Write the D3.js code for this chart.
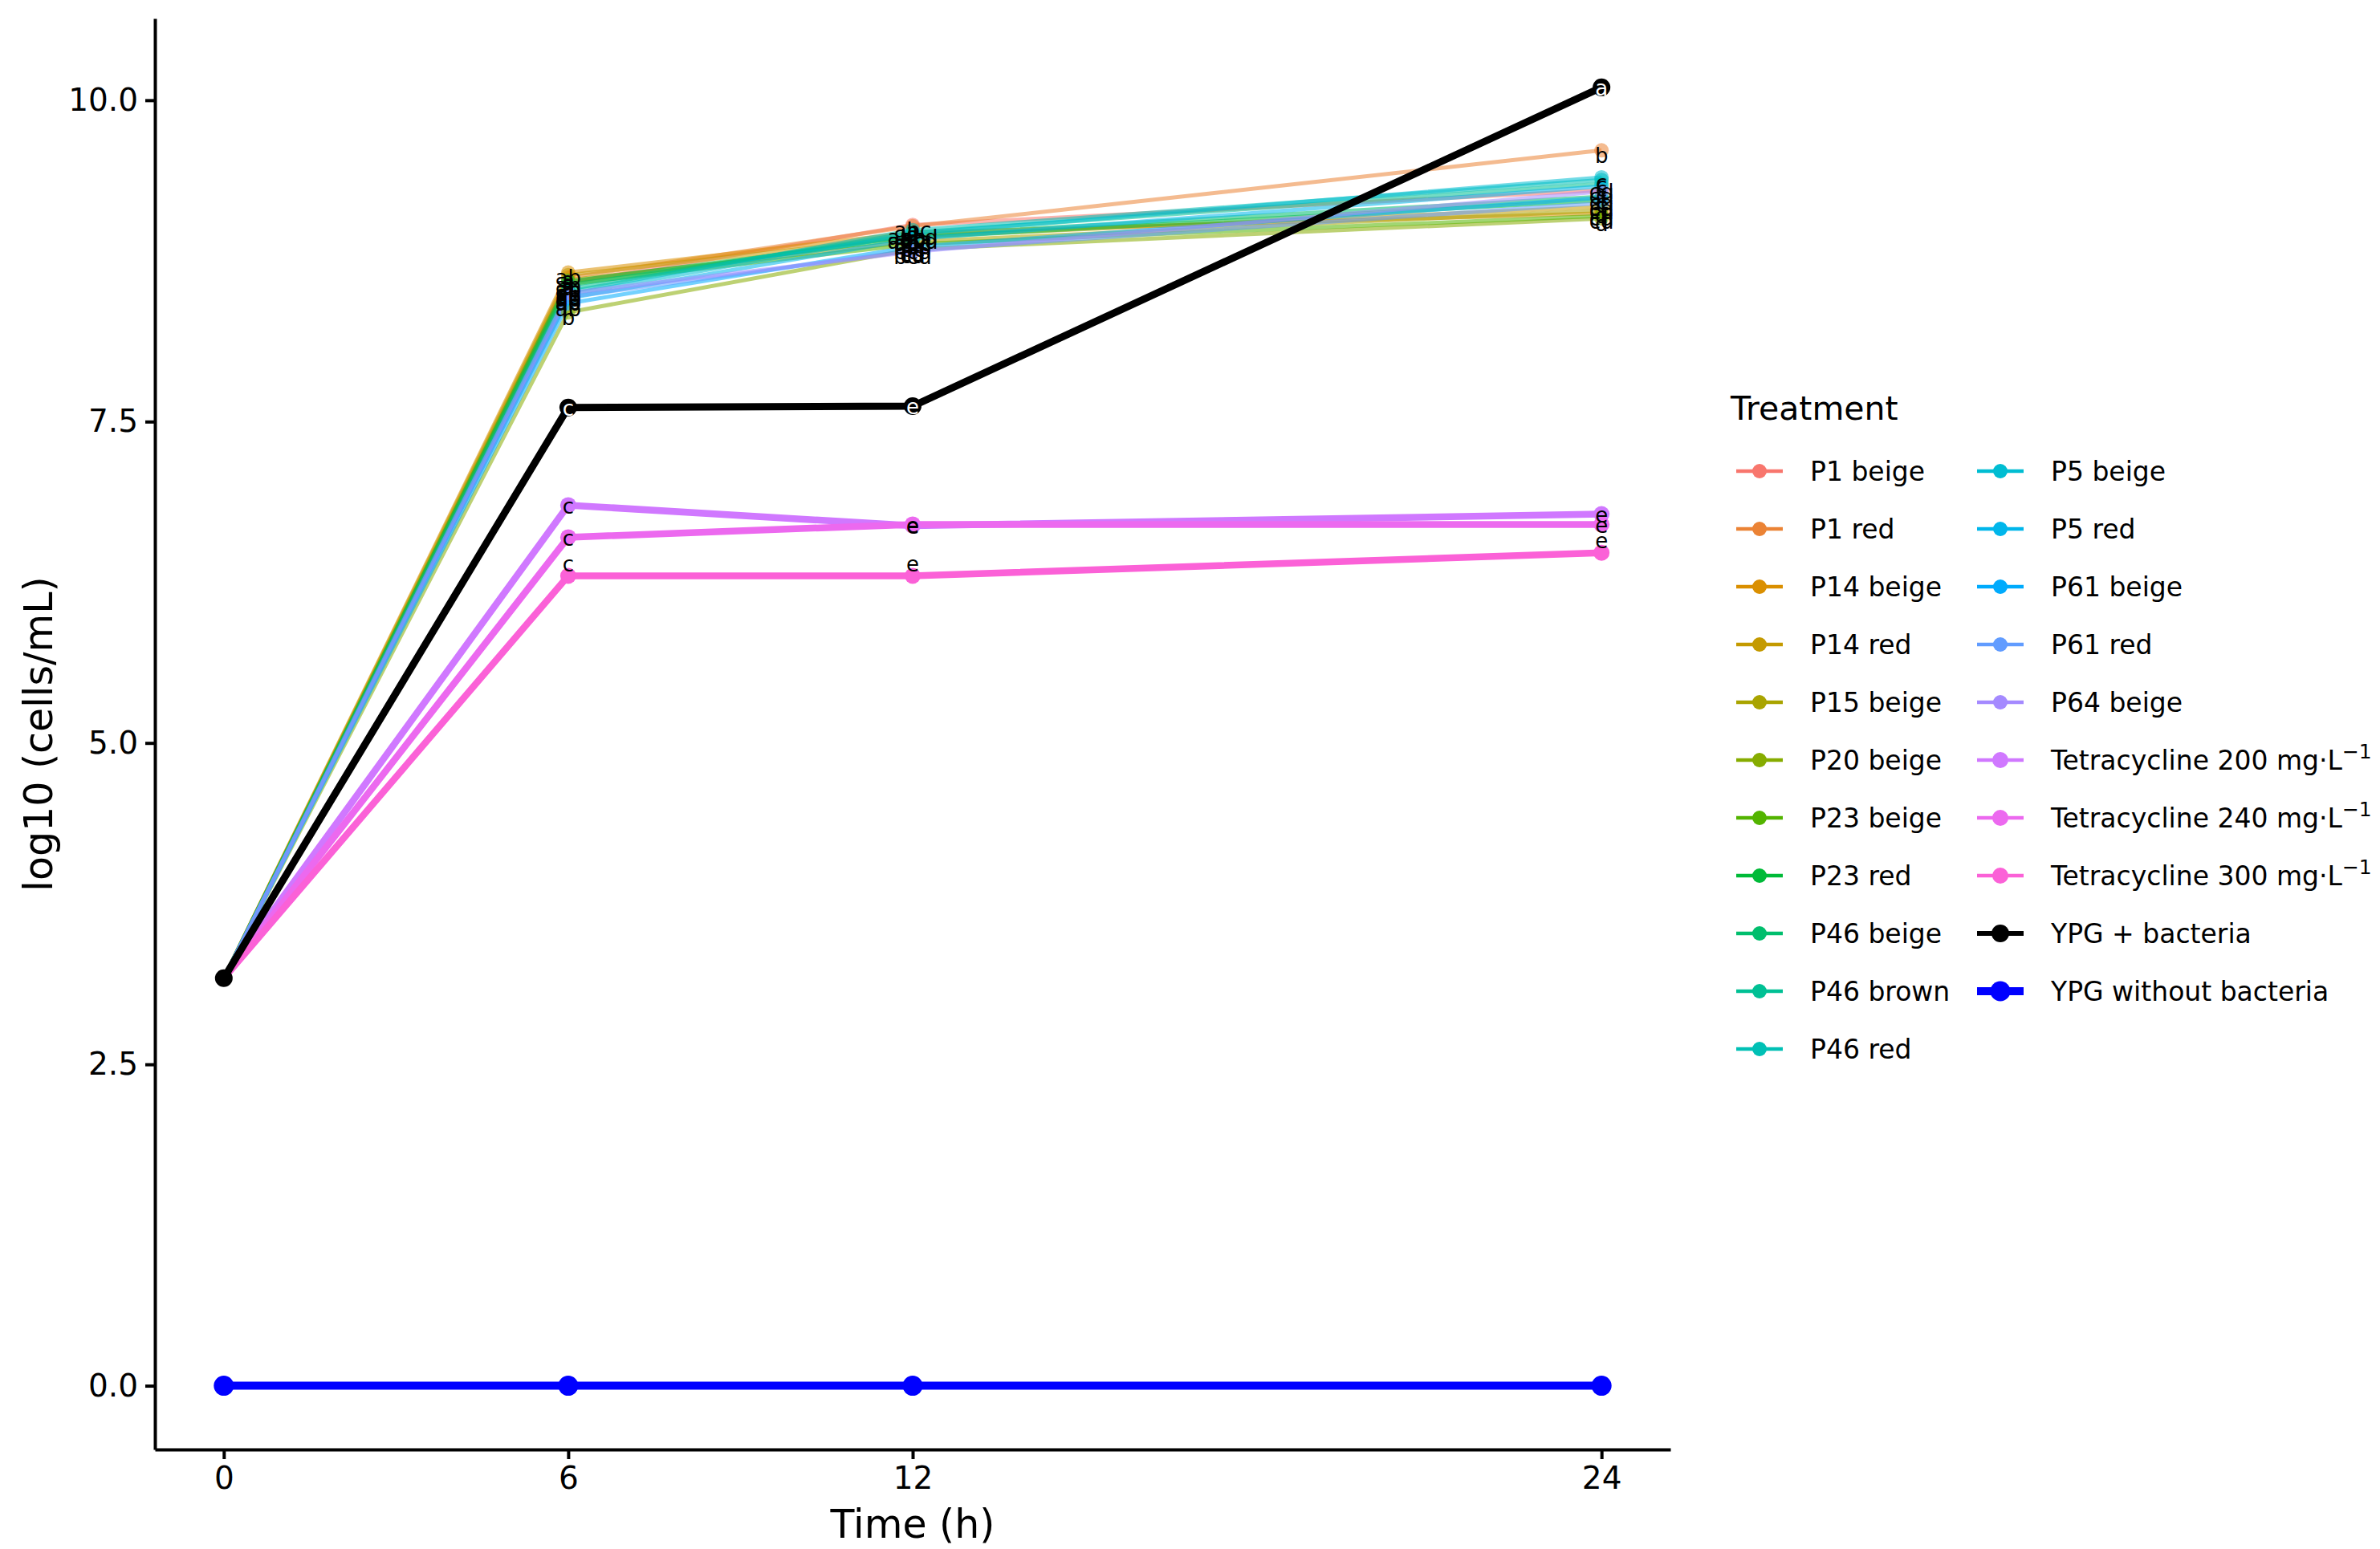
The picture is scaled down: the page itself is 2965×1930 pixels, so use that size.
<!DOCTYPE html>
<html>
<head>
<meta charset="utf-8">
<script src="https://cdn.jsdelivr.net/npm/d3@7"></script>
<style>
  body { margin: 0; background: #fff; }
  svg text { font-family: "DejaVu Sans", sans-serif; }
</style>
</head>
<body>
<div id="app"></div>
<script>
const width = 2965;
const height = 1930;

// data
const times = [0, 6, 12, 24];

const treatments = [
  "P1 beige", "P1 red", "P14 beige", "P14 red", "P15 beige", "P20 beige",
  "P23 beige", "P23 red", "P46 beige", "P46 brown", "P46 red", "P5 beige",
  "P5 red", "P61 beige", "P61 red", "P64 beige",
  "Tetracycline 200", "Tetracycline 240", "Tetracycline 300",
  "YPG + bacteria", "YPG without bacteria"
];

const logCells = [
  [3.17, 8.58, 9.03, 9.30],
  [3.17, 8.62, 9.02, 9.61],
  [3.17, 8.66, 8.97, 9.12],
  [3.17, 8.64, 8.94, 9.17],
  [3.17, 8.60, 8.90, 9.14],
  [3.17, 8.35, 8.84, 9.08],
  [3.17, 8.57, 8.88, 9.10],
  [3.17, 8.59, 8.93, 9.22],
  [3.17, 8.56, 8.95, 9.25],
  [3.17, 8.53, 8.97, 9.35],
  [3.17, 8.51, 8.99, 9.38],
  [3.17, 8.49, 8.96, 9.40],
  [3.17, 8.46, 8.92, 9.33],
  [3.17, 8.42, 8.86, 9.24],
  [3.17, 8.47, 8.83, 9.20],
  [3.17, 8.50, 8.82, 9.29],
  [3.17, 6.85, 6.69, 6.78],
  [3.17, 6.60, 6.70, 6.70],
  [3.17, 6.30, 6.30, 6.48],
  [3.17, 7.61, 7.62, 10.10],
  [0, 0, 0, 0]
];

const letters = [
  ["", "a", "abc", "c"],
  ["", "a", "a", "b"],
  ["", "ab", "ab", "cd"],
  ["", "a", "abcd", "cd"],
  ["", "ab", "bcd", "d"],
  ["", "b", "cd", "d"],
  ["", "ab", "bc", "cd"],
  ["", "a", "abc", "c"],
  ["", "ab", "ab", "c"],
  ["", "ab", "abcd", "c"],
  ["", "ab", "a", "c"],
  ["", "ab", "ab", "c"],
  ["", "ab", "abc", "cd"],
  ["", "ab", "bcd", "cd"],
  ["", "ab", "cd", "cd"],
  ["", "ab", "bcd", "cd"],
  ["", "c", "e", "e"],
  ["", "c", "e", "e"],
  ["", "c", "e", "e"],
  ["", "c", "e", "a"],
  ["", "", "", ""]
];

const yTicks = [0, 2.5, 5, 7.5, 10];

// ggplot-style hue palette (polar LUV), last two set by hand
function hueLuv(h, c, l) {
  const hr = h * Math.PI / 180;
  const U = c * Math.cos(hr), V = c * Math.sin(hr);
  const Xn = 95.047, Yn = 100, Zn = 108.883;
  const Y = Yn * (l > 7.999592 ? Math.pow((l + 16) / 116, 3) : l / 903.3);
  const t = Xn + 15 * Yn + 3 * Zn;
  const u = U / (13 * l) + 4 * Xn / t;
  const v = V / (13 * l) + 9 * Yn / t;
  const X = 9 * Y * u / (4 * v);
  const Z = -X / 3 - 5 * Y + 3 * Y / v;
  const x = X / 100, y = Y / 100, z = Z / 100;
  const lin = [
    3.240479 * x - 1.537150 * y - 0.498535 * z,
    -0.969256 * x + 1.875992 * y + 0.041556 * z,
    0.055648 * x - 0.204043 * y + 1.057311 * z
  ];
  const g = a => a > 0.00304 ? 1.055 * Math.pow(a, 1 / 2.4) - 0.055 : 12.92 * a;
  const [r, gg, b] = lin.map(a => Math.round(255 * Math.max(0, Math.min(1, g(a)))));
  return d3.rgb(r, gg, b).formatHex();
}

const n = treatments.length;
const colors = treatments.map((d, i) => hueLuv(15 + 360 * i / n, 100, 65));
colors[19] = "#000000";
colors[20] = "#0000ff";

function kind(i) {
  if (i < 16) return "p";
  if (i < 19) return "tet";
  return i === 19 ? "ypg" : "blank";
}
const lineWidth = { p: 5, tet: 8.5, ypg: 9, blank: 10 };
const pointR = { p: 9, tet: 10, ypg: 11, blank: 12.5 };
const alpha = { p: 0.55, tet: 1, ypg: 1, blank: 1 };
const legendLine = { p: 4.5, tet: 4.5, ypg: 6, blank: 10 };

const series = treatments.map((name, i) => ({
  name, i, k: kind(i), color: colors[i],
  pts: times.map((t, j) => ({ t, v: logCells[i][j], lab: letters[i][j] }))
}));

const svg = d3.create("svg")
  .attr("width", width)
  .attr("height", height)
  .attr("viewBox", [0, 0, width, height]);

svg.append("rect").attr("width", width).attr("height", height).attr("fill", "#fff");

const x = d3.scaleLinear().domain([-1.2, 25.2]).range([193, 2081]);
const y = d3.scaleLinear().domain([-0.496, 10.636]).range([1806, 23]);

const line = d3.line().x(d => x(d.t)).y(d => y(d.v));

svg.append("g")
  .selectAll("path")
  .data(series)
  .join("path")
  .attr("d", d => line(d.pts))
  .attr("fill", "none")
  .attr("stroke", d => d.color)
  .attr("stroke-opacity", d => alpha[d.k])
  .attr("stroke-width", d => lineWidth[d.k])
  .attr("stroke-linejoin", "round");

svg.append("g")
  .selectAll("g")
  .data(series)
  .join("g")
  .selectAll("circle")
  .data(d => d.pts.map(p => ({ ...p, s: d })))
  .join("circle")
  .attr("cx", d => x(d.t))
  .attr("cy", d => y(d.v))
  .attr("r", d => pointR[d.s.k])
  .attr("fill", d => d.s.color)
  .attr("fill-opacity", d => alpha[d.s.k]);

// significance letters
const labelNudge = { "Tetracycline 300": 0.1 };
svg.append("g")
  .selectAll("g")
  .data(series)
  .join("g")
  .selectAll("text")
  .data(d => d.pts.filter(p => p.lab).map(p => ({ ...p, s: d })))
  .join("text")
  .attr("x", d => x(d.t))
  .attr("y", d => y(d.v + (labelNudge[d.s.name] || 0)))
  .attr("dy", d => d.s.k === "p" ? "0.6em" : "0.4em")
  .attr("text-anchor", "middle")
  .attr("font-size", 26)
  .attr("fill", d => d.s.k === "ypg" ? "#fff" : "#000")
  .text(d => d.lab);

// axes
const yAxis = svg.append("g")
  .attr("transform", `translate(193,0)`)
  .call(d3.axisLeft(y).tickValues(yTicks).tickFormat(d3.format(".1f"))
    .tickSize(12).tickSizeOuter(0).tickPadding(9));
const xAxis = svg.append("g")
  .attr("transform", `translate(0,1806)`)
  .call(d3.axisBottom(x).tickValues(times)
    .tickSize(12).tickSizeOuter(0).tickPadding(9));

[yAxis, xAxis].forEach(a => {
  a.select(".domain").attr("stroke", "#000").attr("stroke-width", 4);
  a.selectAll(".tick line").attr("stroke", "#000").attr("stroke-width", 4);
  a.selectAll(".tick text")
    .attr("font-family", "DejaVu Sans")
    .attr("font-size", 39)
    .attr("fill", "#000");
});

svg.append("text")
  .attr("x", (193 + 2081) / 2)
  .attr("y", 1916)
  .attr("text-anchor", "middle")
  .attr("font-size", 49)
  .text("Time (h)");

svg.append("text")
  .attr("transform", `translate(47,${(23 + 1806) / 2}) rotate(-90)`)
  .attr("text-anchor", "middle")
  .attr("dy", "0.36em")
  .attr("font-size", 49)
  .text("log10 (cells/mL)");

// legend
const legend = svg.append("g");
legend.append("text")
  .attr("x", 2156)
  .attr("y", 523)
  .attr("font-size", 41)
  .text("Treatment");

const rows = 11;
const item = legend.selectAll("g.item")
  .data(series)
  .join("g")
  .attr("class", "item")
  .attr("transform", d => {
    const col = Math.floor(d.i / rows), row = d.i % rows;
    return `translate(${2192 + col * 300},${587 + row * 72})`;
  });

item.append("line")
  .attr("x1", -29).attr("x2", 29)
  .attr("stroke", d => d.color)
  .attr("stroke-width", d => legendLine[d.k]);
item.append("circle")
  .attr("r", d => pointR[d.k])
  .attr("fill", d => d.color);

const label = item.append("text")
  .attr("x", 63)
  .attr("dy", "0.36em")
  .attr("font-size", 33);
label.append("tspan").text(d => d.k === "tet" ? d.name + " mg·L" : d.name);
label.filter(d => d.k === "tet")
  .append("tspan")
  .attr("dy", "-0.55em")
  .attr("font-size", 25)
  .text("−1");

document.getElementById("app").append(svg.node());
</script>
</body>
</html>
